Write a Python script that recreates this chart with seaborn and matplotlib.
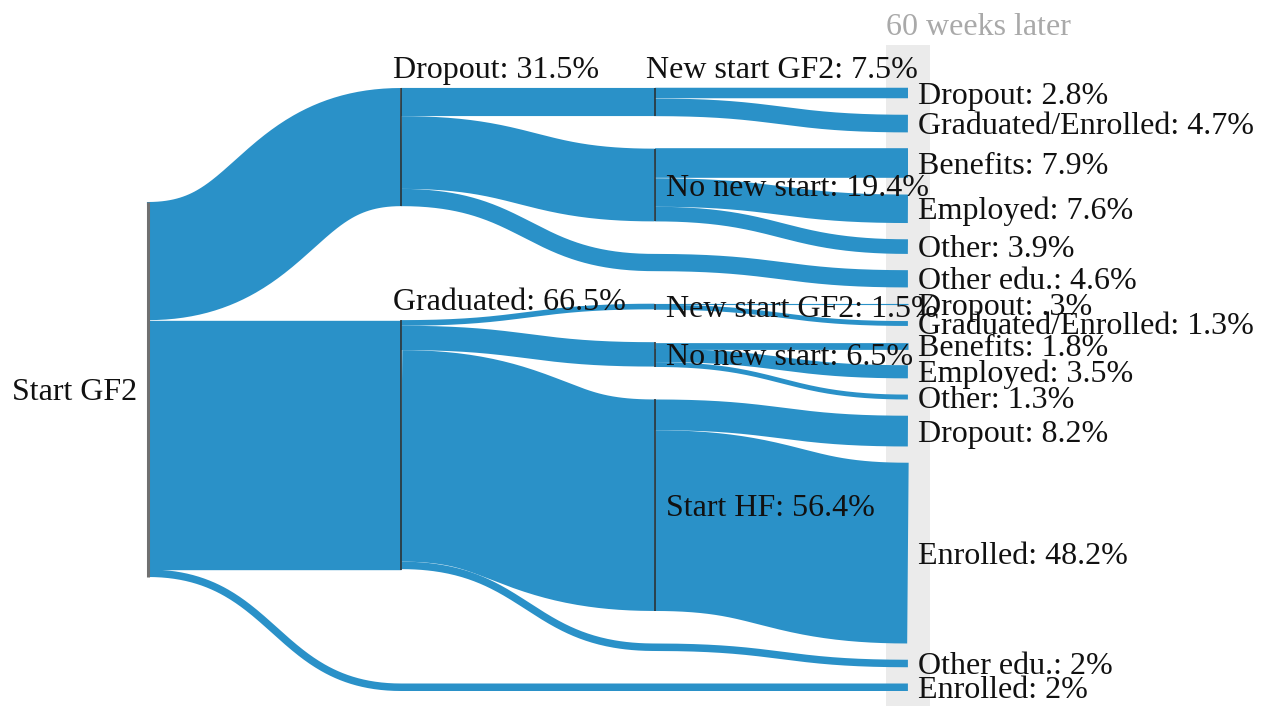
import numpy as np
import matplotlib
matplotlib.use("Agg")
import matplotlib.pyplot as plt
import seaborn as sns

# ── Data: percent of everyone who started GF2 ─────────────────────
# columns: 0 = start, 1 = end of GF2, 2 = next step, 3 = 60 weeks later
# blank names are pass-through points for flows that skip a column
node_names = [
    "Start GF2",
    "Dropout: 31.5%", "Graduated: 66.5%", "",
    "New start GF2: 7.5%", "No new start: 19.4%", "",
    "New start GF2: 1.5%", "No new start: 6.5%", "Start HF: 56.4%", "", "",
    "Dropout: 2.8%", "Graduated/Enrolled: 4.7%", "Benefits: 7.9%",
    "Employed: 7.6%", "Other: 3.9%", "Other edu.: 4.6%",
    "Dropout: .3%", "Graduated/Enrolled: 1.3%", "Benefits: 1.8%",
    "Employed: 3.5%", "Other: 1.3%",
    "Dropout: 8.2%", "Enrolled: 48.2%", "Other edu.: 2%", "Enrolled: 2%",
]
node_column = [0, 1, 1, 1, 2, 2, 2, 2, 2, 2, 2, 2] + [3] * 15

link_source = [0, 0, 0, 1, 1, 1, 2, 2, 2, 2, 3,
               4, 4, 5, 5, 5, 6, 7, 7, 8, 8, 8, 9, 9, 10, 11]
link_target = [1, 2, 3, 4, 5, 6, 7, 8, 9, 10, 11,
               12, 13, 14, 15, 16, 17, 18, 19, 20, 21, 22, 23, 24, 25, 26]
link_value = [31.5, 66.5, 2.0, 7.5, 19.4, 4.6, 1.5, 6.5, 56.4, 2.0, 2.0,
              2.8, 4.7, 7.9, 7.6, 3.9, 4.6, 0.3, 1.3, 1.8, 3.5, 1.3,
              8.2, 48.2, 2.0, 2.0]

last_column_title = "60 weeks later"

# ── Style / layout ────────────────────────────────────────────────
FLOW_COLOR = "#2a91c8"
EXTENT = 160.8          # height of every node stack, in percent units
FS = 23                 # label font size (pt)
DPI = 100

sns.set_theme(style="white")
plt.rcParams["font.family"] = ["Liberation Serif", "DejaVu Serif"]

# ── Sankey layout: every column spread over the full height ──────
n = len(node_names)
val_in = np.zeros(n)
val_out = np.zeros(n)
for s, t, v in zip(link_source, link_target, link_value):
    val_out[s] += v
    val_in[t] += v
node_value = np.maximum(val_in, val_out)

node_y0 = np.zeros(n)
for c in sorted(set(node_column)):
    idx = [i for i in range(n) if node_column[i] == c]
    total = node_value[idx].sum()
    if len(idx) == 1:
        pad, y = 0.0, (EXTENT - total) / 2
    else:
        pad, y = (EXTENT - total) / (len(idx) - 1), 0.0
    for i in idx:
        node_y0[i] = y
        y += node_value[i] + pad

# centre-line of every link, bezier between the two columns
tt = np.linspace(0, 1, 160)
out_off = node_y0.copy()
in_off = node_y0.copy()
link_path = []
for s, t, v in zip(link_source, link_target, link_value):
    sy = out_off[s] + v / 2
    ty = in_off[t] + v / 2
    out_off[s] += v
    in_off[t] += v
    xs, xt = node_column[s], node_column[t]
    xm = (xs + xt) / 2
    bx = (1 - tt) ** 3 * xs + 3 * (1 - tt) ** 2 * tt * xm + 3 * (1 - tt) * tt ** 2 * xm + tt ** 3 * xt
    by = (1 - tt) ** 3 * sy + 3 * (1 - tt) ** 2 * tt * sy + 3 * (1 - tt) * tt ** 2 * ty + tt ** 3 * ty
    link_path.append((bx, by))

fig = plt.figure(figsize=(12.77, 7.06), dpi=DPI)
ax = fig.add_axes([0, 0, 1, 1])
ax.set_xlim(-0.584, 4.457)
ax.set_ylim(164.8, -23.47)
ax.axis("off")

# px per unit, from the axes transform
px_per_unit = abs(ax.transData.transform((0, 1))[1] - ax.transData.transform((0, 0))[1])
px_per_col = abs(ax.transData.transform((1, 0))[0] - ax.transData.transform((0, 0))[0])

# highlight band behind the last column
last_col = max(node_column)
band_half = 22 / px_per_col
band_top = -11.5
ax.fill_betweenx([band_top, 200], last_col - band_half, last_col + band_half,
                 color="#ebebeb", lw=0, zorder=0)
ax.annotate(last_column_title, (last_col - band_half, band_top),
            xytext=(0, 7), textcoords="offset points",
            ha="left", va="baseline", fontsize=FS, color="#a9a9a9")

# ── Links: stroked ribbons, chained through pass-through points ───
for k, (s, t, v) in enumerate(zip(link_source, link_target, link_value)):
    if not node_names[s]:
        continue  # drawn as part of the chain that feeds it
    bx, by = link_path[k]
    node = t
    while not node_names[node]:
        nxt = link_source.index(node)
        bx = np.concatenate([bx, link_path[nxt][0][1:]])
        by = np.concatenate([by, link_path[nxt][1][1:]])
        node = link_target[nxt]
    lw = v * px_per_unit * 72 / DPI
    ax.plot(bx, by, color=FLOW_COLOR, lw=lw, solid_capstyle="butt",
            solid_joinstyle="round", zorder=2)

# ── Nodes and labels ──────────────────────────────────────────────
label_above = {1, 2, 4}          # labels sitting on top of the node
cap_pt = 0.33 * FS               # baseline offset that centres the caps
for i, name in enumerate(node_names):
    if not name:
        continue
    c = node_column[i]
    y0, y1 = node_y0[i], node_y0[i] + node_value[i]
    yc = (y0 + y1) / 2
    if c == 0:
        ax.vlines(c, y0, y1, color="#707070", lw=2.2, zorder=3)
        ax.annotate(name, (c, yc), xytext=(-8, -cap_pt), textcoords="offset points",
                    ha="right", va="baseline", fontsize=FS, color="#111111", zorder=4)
    elif c < last_col:
        ax.vlines(c, y0, y1, color="#2a2a2a", lw=1.1, zorder=3)
        if i in label_above:
            ax.annotate(name, (c, y0), xytext=(-6, 7), textcoords="offset points",
                        ha="left", va="baseline", fontsize=FS, color="#111111", zorder=4)
        else:
            ax.annotate(name, (c, yc), xytext=(8, -cap_pt), textcoords="offset points",
                        ha="left", va="baseline", fontsize=FS, color="#111111", zorder=4)
    else:
        ax.annotate(name, (c, yc), xytext=(7, -cap_pt), textcoords="offset points",
                    ha="left", va="baseline", fontsize=FS, color="#111111", zorder=4)

fig.savefig("out.png", dpi=DPI)
plt.close(fig)
